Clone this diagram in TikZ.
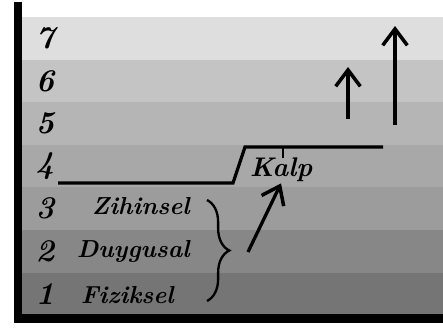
\documentclass[tikz,border=0pt]{standalone}
\usetikzlibrary{arrows.meta,decorations.pathreplacing,positioning}

\begin{document}
\begin{tikzpicture}[x=0.03cm,y=-0.03cm,
    level/.style={font=\fontsize{27}{27}\selectfont\bfseries\itshape},
    kind/.style={font=\fontsize{21}{21}\selectfont\bfseries\itshape, anchor=east, inner sep=0pt},
    up/.style={line width=2.8pt, -{Straight Barb[length=14pt,width=21pt,line width=3pt]}}]
      \def\bandtop{17}
      \def\bandh{42.6}
      \def\stepy{183}
      \def\stepuppery{147}

      \useasboundingbox (0,0) rectangle (443,329);

      % the seven bands, light at the top
      \foreach \n/\shade in {7/13,6/23,5/29,4/34,3/39,2/47,1/54} {
        \pgfmathsetmacro\ytop{\bandtop+(7-\n)*\bandh}
        \fill[black!\shade] (18,\ytop) rectangle (443,\ytop+\bandh);
        \node[level] (num\n) at (45,\ytop+0.5*\bandh) {\n};
      }

      % axis
      \draw[line width=7pt] (18,2) -- (18,318.5) -- (443,318.5);

      \node[kind] (zihinsel) at (190,206) {Zihinsel};
      \node[kind] (duygusal) at (190,251) {Duygusal};
      \node[kind] (fiziksel) at (174,295) {Fiziksel};

      % the step
      \coordinate (stepL) at (58,\stepy);
      \coordinate (stepA) at (233,\stepy);
      \coordinate (stepB) at (245,\stepuppery);
      \coordinate (stepR) at (383,\stepuppery);
      \draw[line width=2.8pt] (stepL) -- (stepA) -- (stepB) -- (stepR);
      \draw[line width=1.2pt] (283,\stepuppery) -- (283,158);
      \node[font=\fontsize{23}{23}\selectfont\bfseries\itshape, inner sep=1pt] (kalp) at (281,170) {Kalp};

      % brace over the three lower levels
      \coordinate (braceT) at (207,200);
      \coordinate (braceB) at (207,301);
      \draw[line width=2pt, decorate, decoration={brace, amplitude=19}] (braceT) -- (braceB);
      \coordinate (braceTip) at (248,252);
      \draw[up] (braceTip) -- (kalp.south);

      % upward arrows
      \coordinate (short0) at (348,119);
      \coordinate (short1) at (348,67);
      \coordinate (long0) at (395,125);
      \coordinate (long1) at (395,26);
      \draw[up] (short0) -- (short1);
      \draw[up] (long0) -- (long1);
    \end{tikzpicture}
\end{document}
